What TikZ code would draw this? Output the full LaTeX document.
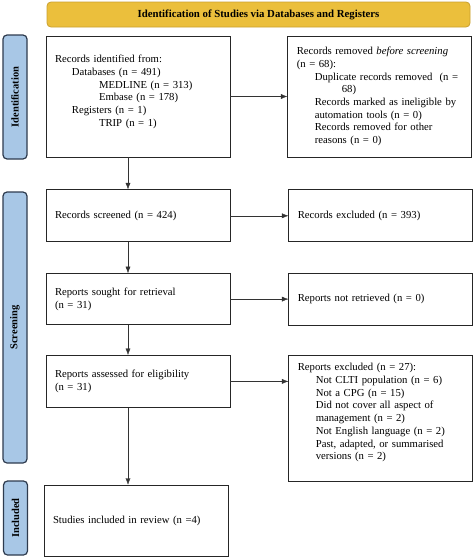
\documentclass[tikz,border=0pt]{standalone}
\usepackage{fontspec}
\setmainfont{Liberation Serif}
\usetikzlibrary{positioning,arrows.meta}
\definecolor{headgold}{HTML}{EBBF3C}
\definecolor{headedge}{HTML}{C9A030}
\definecolor{sideblue}{HTML}{A8C7E6}
\definecolor{sideedge}{HTML}{2E3B4E}

\begin{document}
\begin{tikzpicture} [x=1pt, y=-1pt,
            box/.style={rectangle, draw=black!85, thick, inner xsep=9pt, inner ysep=2pt,
                        text width=166pt, align=left, font=\fontsize{10.7}{12.7}\selectfont},
            head/.style={rectangle, rounded corners=4pt, draw=headedge, fill=headgold, thick,
                         minimum width=423pt, minimum height=25pt, font=\fontsize{10.8}{12}\selectfont\bfseries},
            side/.style={rectangle, rounded corners=4pt, draw=sideedge, fill=sideblue, very thick,
                         minimum height=24pt, rotate=90, font=\fontsize{10.5}{12}\selectfont\bfseries},
            arr/.style={-{Latex[length=6.5pt,width=5pt]}, draw=black!80}]
        \useasboundingbox (0,0) rectangle (474,557);
        % header and phase labels
        \node[head](title) at (258.5,14.5){Identification of Studies via Databases and Registers};
        \node[side, minimum width=124pt](sideid) at (15,97){Identification};
        \node[side, minimum width=271pt](sidescr) at (15,327.5){Screening};
        \node[side, minimum width=74pt](sideinc) at (15.5,518){Included};
        % left column
        \node[box, minimum height=121pt](ident) at (138,96.5){Records identified from:\\
            \hspace*{17pt}Databases (n = 491)\\
            \hspace*{44pt}MEDLINE (n = 313)\\
            \hspace*{44pt}Embase (n = 178)\\
            \hspace*{17pt}Registers (n = 1)\\
            \hspace*{44pt}TRIP (n = 1)\\[-1pt]\mbox{}};
        \node[box, minimum height=52pt](screened)[below=32pt of ident]{Records screened (n = 424)};
        \node[box, minimum height=51pt](sought)[below=31pt of screened]{Reports sought for retrieval\\(n = 31)};
        \node[box, minimum height=52pt](assessed)[below=30pt of sought]{Reports assessed for eligibility\\(n = 31)};
        \node[box, minimum height=71pt](included)[below=77pt of assessed, xshift=-2pt]{Studies included in review (n =4)};
        % right column
        \node[box, minimum height=121pt](removed)[right=57pt of ident]{Records removed \emph{before screening}\\
            (n = 68):\\
            \hspace*{18pt}Duplicate records removed\ \ (n =\\
            \hspace*{45pt}68)\\
            \hspace*{18pt}Records marked as ineligible by\\
            \hspace*{18pt}automation tools (n = 0)\\
            \hspace*{18pt}Records removed for other\\
            \hspace*{18pt}reasons (n = 0)};
        \node[box, minimum height=52pt](excluded)[right=58pt of screened]{Records excluded (n = 393)};
        \node[box, minimum height=52pt](notretr)[right=58pt of sought]{Reports not retrieved (n = 0)};
        \node[box, minimum height=126pt, anchor=north west](repexcl) at ([xshift=58pt]assessed.north east){Reports excluded (n = 27):\\
            \hspace*{18pt}Not CLTI population (n = 6)\\
            \hspace*{18pt}Not a CPG (n = 15)\\
            \hspace*{18pt}Did not cover all aspect of\\
            \hspace*{18pt}management (n = 2)\\
            \hspace*{18pt}Not English language (n = 2)\\
            \hspace*{18pt}Past, adapted, or summarised\\
            \hspace*{18pt}versions (n = 2)\\[1pt]\mbox{}};
        % connectors
        \draw[arr] (ident.east) -- (removed.west);
        \draw[arr] (screened.east) -- (excluded.west);
        \draw[arr] (sought.east) -- (notretr.west);
        \draw[arr] (assessed.east) -- (repexcl.west |- assessed.east);
        \draw[arr] ([xshift=-10pt]ident.south) -- ([xshift=-10pt]screened.north);
        \draw[arr] ([xshift=-10pt]screened.south) -- ([xshift=-10pt]sought.north);
        \draw[arr] ([xshift=-10pt]sought.south) -- ([xshift=-10pt]assessed.north);
        \draw[arr] ([xshift=-10pt]assessed.south) -- ([xshift=-10pt]assessed.south |- included.north);
    \end{tikzpicture}
\end{document}
